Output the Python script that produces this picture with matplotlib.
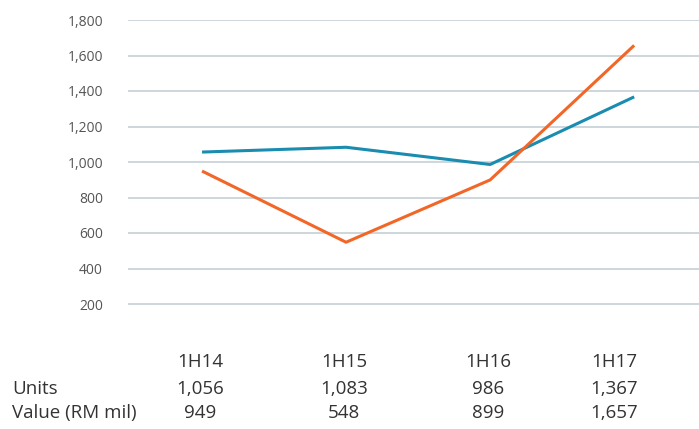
import matplotlib.pyplot as plt
import matplotlib.transforms as mtransforms

periodos = ['1H14', '1H15', '1H16', '1H17']
unidades = [1056, 1083, 986, 1367]
valor_rm = [949, 548, 899, 1657]
ticks_y = [200, 400, 600, 800, 1000, 1200, 1400, 1600, 1800]

plt.rcParams['font.family'] = ['Open Sans', 'DejaVu Sans']

fig = plt.figure(figsize=(6.99, 4.29), dpi=100)
ax = fig.add_axes([128 / 699, 1 - 339.5 / 429, 571 / 699, 319.5 / 429])

x = list(range(len(periodos)))
ax.plot(x, unidades, color='#1a8cb0', lw=2.2, solid_capstyle='butt', zorder=3)
ax.plot(x, valor_rm, color='#f26728', lw=2.2, solid_capstyle='butt', zorder=3)

ax.set_xlim(-0.514, 3.45)
ax.set_ylim(0, 1800)
ax.set_yticks(ticks_y)
ax.set_yticklabels([f'{v:,}' for v in ticks_y], color='#555555', fontsize=10)
ax.tick_params(axis='y', length=0, pad=18)
ax.set_xticks([])
ax.grid(axis='y', color='#c9d4d9', lw=1.3)
ax.set_axisbelow(True)
for s in ax.spines.values():
    s.set_visible(False)
ax.patch.set_alpha(0)

# tabla de valores debajo del grafico
col_x = [-0.014, 0.986, 1.986, 2.86]
filas_y = [362, 389, 413]
to_fig = lambda py: 1 - py / 429
trans = mtransforms.blended_transform_factory(ax.transData, fig.transFigure)
for cx, p, u, v in zip(col_x, periodos, unidades, valor_rm):
    for py, txt in zip(filas_y, [p, f'{u:,}', f'{v:,}']):
        ax.text(cx, to_fig(py), txt, transform=trans,
                ha='center', va='center', fontsize=13.5, color='#333333')

fig.text(12 / 699, to_fig(filas_y[1]), 'Units', ha='left', va='center', fontsize=13.5, color='#333333')
fig.text(12 / 699, to_fig(filas_y[2]), 'Value (RM mil)', ha='left', va='center', fontsize=13.5, color='#333333')

fig.savefig('out.png', dpi=100)
